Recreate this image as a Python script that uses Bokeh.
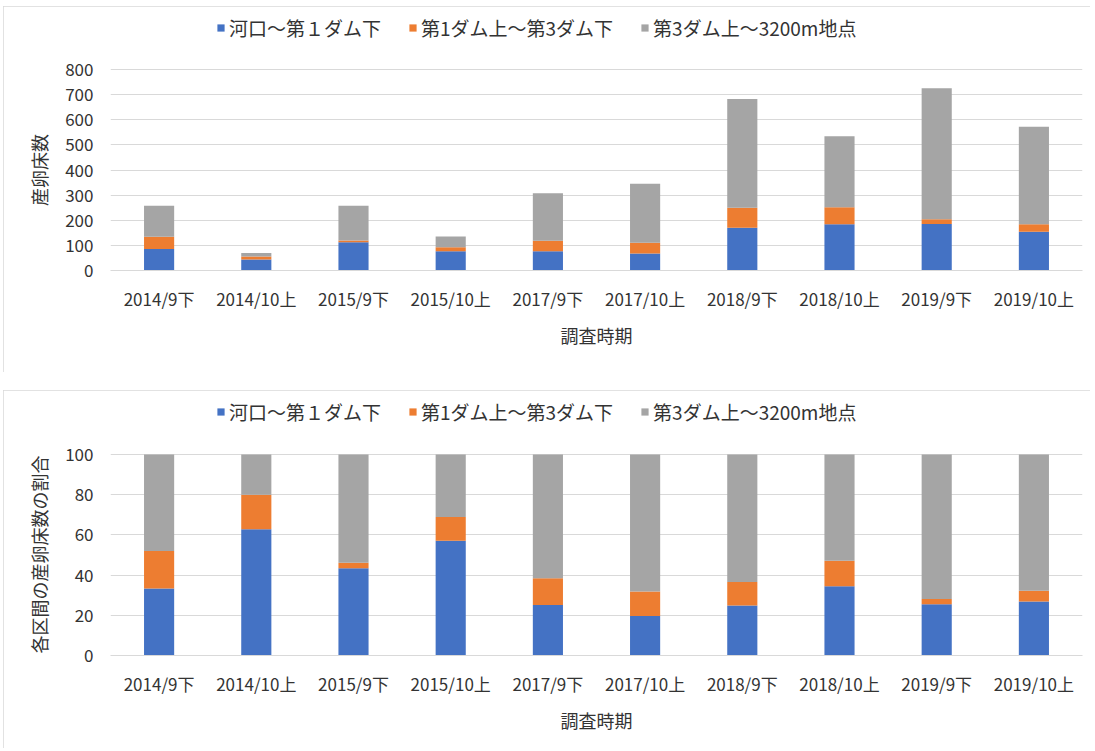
from bokeh.plotting import figure
from bokeh.models import ColumnDataSource, FactorRange, Range1d, FixedTicker, Legend, LegendItem
from bokeh.layouts import column
from bokeh.embed import file_html
from bokeh.resources import INLINE

periods = ["2014/9下", "2014/10上", "2015/9下", "2015/10上", "2017/9下",
           "2017/10上", "2018/9下", "2018/10上", "2019/9下", "2019/10上"]
series_names = ["河口～第１ダム下", "第1ダム上～第3ダム下", "第3ダム上～3200m地点"]
lower = [86, 44, 112, 77, 77, 68, 170, 184, 185, 154]
middle = [48, 12, 7, 16, 41, 42, 80, 68, 19, 30]
upper = [124, 14, 139, 42, 189, 235, 433, 282, 521, 388]
colors = ["#4472C4", "#ED7D31", "#A5A5A5"]

FONT = "Noto Sans CJK JP"
TXT = "#333333"
GRID = "#D9D9D9"
PAD = "\u3000" * 3  # keeps the rotated title centred on the value area, not the legend area

totals = [a + b + c for a, b, c in zip(lower, middle, upper)]
pct_lower = [a / t * 100 for a, t in zip(lower, totals)]
pct_middle = [b / t * 100 for b, t in zip(middle, totals)]
pct_upper = [c / t * 100 for c, t in zip(upper, totals)]


def make(values, ymax, step, ylabel, height, bottom, margin, legend_y):
    # frame spans from legend area (9px below canvas top) down to the 0 line;
    # the value axis occupies the lower 201px of it, the rest holds the legend
    frame_h = height - 9 - bottom
    y_end = ymax * frame_h / 201.0
    src = ColumnDataSource(dict(period=periods, s0=values[0], s1=values[1], s2=values[2]))
    p = figure(x_range=FactorRange(*periods), y_range=Range1d(0, y_end),
               width=1087, height=height, output_backend="svg", toolbar_location=None,
               min_border_left=107, min_border_right=8, min_border_top=9,
               min_border_bottom=bottom)
    p.margin = margin
    rs = p.vbar_stack(["s0", "s1", "s2"], x="period", width=0.31, color=colors,
                      line_color=None, source=src)
    p.outline_line_color = None
    p.styles = {"outline": "1px solid #D9D9D9", "outline-offset": "-1px"}
    p.xgrid.grid_line_color = None
    p.ygrid.grid_line_color = GRID
    p.ygrid.grid_line_width = 1
    p.yaxis.ticker = FixedTicker(ticks=list(range(0, ymax + 1, step)))
    p.yaxis.axis_line_color = None
    p.yaxis.major_tick_line_color = None
    p.yaxis.minor_tick_line_color = None
    p.yaxis.major_label_standoff = 11
    p.xaxis.axis_line_color = GRID
    p.xaxis.major_tick_line_color = None
    p.xaxis.minor_tick_line_color = None
    p.xaxis.major_label_standoff = 9
    for ax in (p.xaxis[0], p.yaxis[0]):
        ax.major_label_text_font = FONT
        ax.major_label_text_font_size = "17px"
        ax.major_label_text_color = TXT
        ax.axis_label_text_font = FONT
        ax.axis_label_text_font_size = "18px"
        ax.axis_label_text_font_style = "normal"
        ax.axis_label_text_color = TXT
    p.xaxis.axis_label = "調査時期"
    p.xaxis.axis_label_standoff = 8
    p.yaxis.axis_label = ylabel + PAD
    p.yaxis.axis_label_standoff = 10
    legend = Legend(items=[LegendItem(label=n, renderers=[r]) for n, r in zip(series_names, rs)],
                    orientation="horizontal", location=(106, legend_y),
                    border_line_color=None, background_fill_alpha=0,
                    glyph_width=9, glyph_height=9, label_standoff=4, spacing=27,
                    label_height=20, padding=0, margin=0, label_text_font=FONT,
                    label_text_font_size="19px", label_text_color=TXT)
    p.add_layout(legend)
    return p


p1 = make([lower, middle, upper], 800, 100, "産卵床数", 366, 102, (6, 0, 0, 3), 229)
p2 = make([pct_lower, pct_middle, pct_upper], 100, 20, "各区間の産卵床数の割合", 358, 93, (18, 0, 0, 3), 230)

layout = column(p1, p2)
open("out.html", "w").write(file_html(layout, INLINE))
